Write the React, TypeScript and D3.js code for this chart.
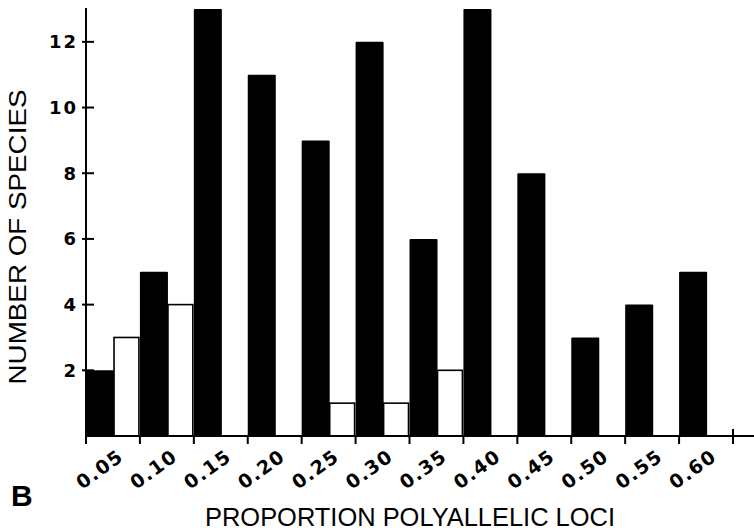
import React from 'react';
import * as d3 from 'd3';

// data
const bins = ['0.05', '0.10', '0.15', '0.20', '0.25', '0.30', '0.35', '0.40', '0.45', '0.50', '0.55', '0.60'];
const blackCounts = [2, 5, 13, 11, 9, 12, 6, 13, 8, 3, 4, 5];
const whiteCounts = [3, 4, 0, 0, 1, 1, 2, 0, 0, 0, 0, 0];
const yTicks = [2, 4, 6, 8, 10, 12];

const W = 754;
const H = 531;
const font = '"Liberation Sans", Arial, Helvetica, sans-serif';
const tickFont = '"DejaVu Sans", sans-serif';

const x = d3.scaleLinear().domain([0, bins.length]).range([86, 733]);
const y = d3.scaleLinear().domain([0, 13]).range([436, 9]);

export default function App() {
  const step = x(1) - x(0);
  const blackW = step * 0.52;
  return (
    <svg width={W} height={H} style={{ position: 'absolute', left: 0, top: 0 }}>
      <rect width={W} height={H} fill="#fff" />

      {/* bars */}
      {bins.map((b, i) => (
        <g key={b}>
          <rect x={x(i)} y={y(blackCounts[i])} width={blackW} height={y(0) - y(blackCounts[i])} fill="#000" rx={1} />
          {whiteCounts[i] > 0 && (
            <rect x={x(i) + blackW} y={y(whiteCounts[i])} width={step - blackW - 1} height={y(0) - y(whiteCounts[i])}
              fill="#fff" stroke="#000" strokeWidth={1.6} />
          )}
        </g>
      ))}

      {/* axes */}
      <g stroke="#000" strokeWidth={2} fill="none">
        <line x1={x(0)} x2={x(0)} y1={y(13) - 1} y2={y(0)} />
        <line x1={x(0)} x2={W} y1={y(0)} y2={y(0)} />
        {yTicks.map(t => (
          <line key={t} x1={x(0) - 4} x2={x(0) + 8} y1={y(t)} y2={y(t)} />
        ))}
        {d3.range(bins.length + 1).map(i => (
          <line key={i} x1={x(i)} x2={x(i)} y1={i === bins.length ? y(0) - 7 : y(0)} y2={y(0) + 8} />
        ))}
      </g>

      {/* y tick labels */}
      <g fontFamily={tickFont} fontWeight="bold" fontSize={18} textAnchor="end" letterSpacing={2}>
        {yTicks.map(t => (
          <text key={t} x={x(0) - 8} y={y(t) + 6.5}>{t}</text>
        ))}
      </g>

      {/* x tick labels */}
      <g fontFamily={tickFont} fontWeight="bold" fontSize={19} textAnchor="end" letterSpacing={1.5}>
        {bins.map((b, i) => (
          <text key={b} transform={`translate(${x(i) + 39}, 459) rotate(-36)`}>{b}</text>
        ))}
      </g>

      {/* titles */}
      <text x={410} y={526} fontFamily={font} fontSize={25} textAnchor="middle" textLength={410} lengthAdjust="spacingAndGlyphs">
        PROPORTION POLYALLELIC LOCI
      </text>
      <text transform="translate(26, 237) rotate(-90)" fontFamily={font} fontSize={24} textAnchor="middle"
        textLength={295} lengthAdjust="spacingAndGlyphs">
        NUMBER OF SPECIES
      </text>
      <text x={11} y={506} fontFamily={font} fontWeight="bold" fontSize={30}>B</text>
    </svg>
  );
}
